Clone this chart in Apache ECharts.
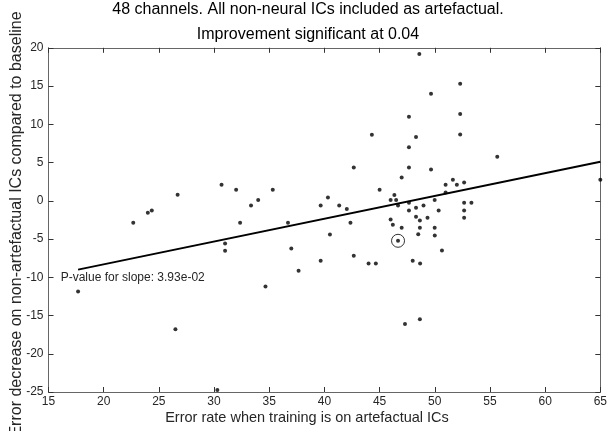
<!DOCTYPE html>
<html>
<head>
<meta charset="utf-8">
<script src="https://cdn.jsdelivr.net/npm/echarts@6/dist/echarts.min.js"></script>
<style>
html,body{margin:0;padding:0;background:#fff;}
#c{width:610px;height:431px;}
</style>
</head>
<body>
<div id="c"></div>
<script>
var titleLines = ['48 channels. All non-neural ICs included as artefactual.', 'Improvement significant at 0.04'];
var xName = 'Error rate when training is on artefactual ICs';
var yName = 'Error decrease on non-artefactual ICs compared to baseline';
var pText = 'P-value for slope: 3.93e-02';
var pPos = [16.1, -10];

var xs = [22.68,24.0,24.36,26.7,30.68,32.0,33.35,32.36,31.0,31.0,17.68,26.5,30.3,34.0,35.32,36.7,39.66,40.32,41.34,42.03,
          42.36,42.66,44.3,45.0,46.0,46.34,46.5,46.67,47.0,47.66,47.66,47.66,47.66,47.66,48.3,48.3,48.3,48.6,48.98,48.65,
          46.0,46.2,47.0,48.65,49.66,52.3,52.3,52.3,55.66,49.66,65.0,50.98,51.64,52.0,52.66,50.98,49.99,50.35,52.66,53.32,
          52.66,52.66,49.34,49.99,48.5,50.0,46.67,50.65,48.0,48.67,40.5,37.0,39.66,37.66,42.66,44.0,44.66,34.66,47.3,48.65];
var ys = [-2.88,-1.57,-1.27,0.78,2.09,1.44,-0.61,-2.88,-5.58,-6.54,-11.85,-16.8,-24.75,0.09,1.44,-2.88,-0.61,0.44,-0.61,-1.09,
          -2.88,4.36,8.63,1.44,0.09,0.74,0.09,-0.61,3.05,10.98,7.0,4.36,-0.26,-1.27,8.33,-0.92,-2.1,19.2,-0.61,-2.57,
          -2.44,-3.14,-3.53,-3.53,13.99,15.29,11.33,8.67,5.75,4.1,2.75,2.09,2.75,2.09,2.4,1.09,0.09,-1.27,-0.26,-0.26,
          -1.27,-2.22,-2.22,-3.53,-4.36,-4.53,-5.23,-6.5,-7.84,-8.19,-4.4,-6.23,-7.84,-9.15,-7.19,-8.2,-8.2,-11.2,-16.1,-15.5];
var highlight = [46.67, -5.23];
var fitX = [17.68, 65.0];
var fitY = [-9.0, 5.1];

var xMin = 15, xMax = 65, xStep = 5;
var yMin = -25, yMax = 20, yStep = 5;

var pts = xs.map(function(x, i){ return [x, ys[i]]; });
var fit = fitX.map(function(x, i){ return [x, fitY[i]]; });

var FONT = 'Liberation Sans, Arial, Helvetica, sans-serif';
var axisCol = '#666';
var labCol = '#262626';

function mkX(pos, show){
  return {type:'value', min:xMin, max:xMax, interval:xStep, position:pos,
    axisLine:{show:true, onZero:false, lineStyle:{color:axisCol, width:1}},
    axisTick:{show:true, inside:true, length:5, lineStyle:{color:'#333'}},
    axisLabel:{show:show, margin:4, color:labCol, fontSize:12, fontFamily:FONT},
    splitLine:{show:false}};
}
function mkY(pos, show){
  return {type:'value', min:yMin, max:yMax, interval:yStep, position:pos,
    axisLine:{show:true, onZero:false, lineStyle:{color:axisCol, width:1}},
    axisTick:{show:true, inside:true, length:5, lineStyle:{color:'#333'}},
    axisLabel:{show:show, margin:5, color:labCol, fontSize:12, fontFamily:FONT},
    splitLine:{show:false}};
}

var chart = echarts.init(document.getElementById('c'), null, {renderer:'canvas'});
chart.setOption({
  animation:false,
  backgroundColor:'#fff',
  grid:{left:48.5, right:5, top:47.8, bottom:39, containLabel:false},
  xAxis:[mkX('bottom', true), mkX('top', false)],
  yAxis:[mkY('left', true), mkY('right', false)],
  series:[
    {type:'line', data:fit, showSymbol:false, symbol:'none', lineStyle:{color:'#000', width:2}, z:2},
    {type:'scatter', data:pts, symbol:'circle', symbolSize:4, itemStyle:{color:'#000'}, z:3},
    {type:'scatter', data:[highlight], symbol:'circle', symbolSize:13,
      itemStyle:{color:'rgba(0,0,0,0)', borderColor:'#000', borderWidth:1}, z:3}
  ]
});

var pp = chart.convertToPixel({xAxisIndex:0, yAxisIndex:0}, pPos);
chart.setOption({
  graphic:[
    {type:'text', x:pp[0], y:pp[1], style:{text:pText, fill:labCol, fontSize:12, fontFamily:FONT, textAlign:'left', textVerticalAlign:'middle'}},
    {type:'text', x:308, y:10, style:{text:titleLines[0], fill:'#000', fontSize:16, fontFamily:FONT, textAlign:'center', textVerticalAlign:'middle'}},
    {type:'text', x:308, y:35, style:{text:titleLines[1], fill:'#000', fontSize:16, fontFamily:FONT, textAlign:'center', textVerticalAlign:'middle'}},
    {type:'text', x:307, y:418, style:{text:xName, fill:labCol, fontSize:14.5, fontFamily:FONT, textAlign:'center', textVerticalAlign:'middle'}},
    {type:'text', x:16.5, y:224, rotation:Math.PI/2, style:{text:yName, fill:labCol, fontSize:16, fontFamily:FONT, textAlign:'center', textVerticalAlign:'middle'}}
  ]
});
</script>
</body>
</html>
